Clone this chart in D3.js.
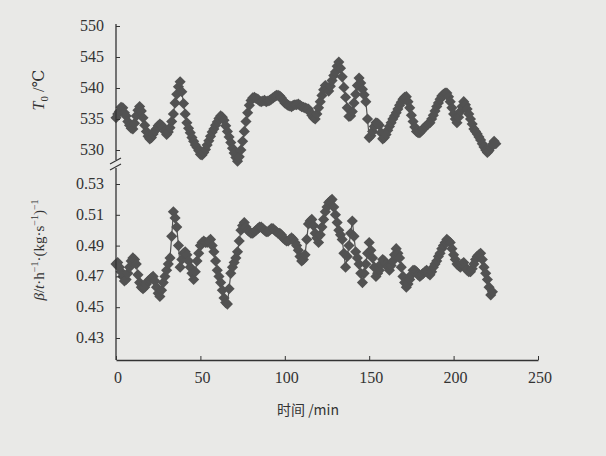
<!DOCTYPE html>
<html>
<head>
<meta charset="utf-8">
<script src="https://cdn.jsdelivr.net/npm/d3@7"></script>
<style>
  body { margin: 0; background: #e9e9e7; }
  svg { display: block; }
  text { fill: #333; font-family: "Liberation Serif", "DejaVu Serif", serif; }
</style>
</head>
<body>
<svg id="chart" width="606" height="456"></svg>
<script>
// outlet temperature T0, degC, one reading per minute from t = 0
const temps = [
  535.2, 535.8, 536.2, 536.9, 536.8, 536.0, 535.5, 534.6, 534.0, 533.5,
  533.4, 534.3, 535.5, 536.4, 537.0, 536.3, 535.2, 534.0, 533.0, 532.2,
  531.8, 532.0, 532.6, 533.1, 533.4, 533.9, 534.2, 534.0, 533.6, 533.0,
  532.5, 532.9, 533.6, 534.6, 535.8, 537.6, 539.0, 540.2, 541.0, 539.4,
  537.5, 535.8, 534.4, 533.5, 532.8, 532.0, 531.4, 530.8, 530.4, 529.9,
  529.3, 529.2, 529.6, 530.1, 530.8, 531.5, 532.2, 532.9, 533.4, 534.0,
  534.5, 535.1, 535.5, 535.3, 534.8, 533.9, 533.0, 532.1, 531.2, 530.3,
  529.5, 528.8, 528.2, 528.9, 530.0, 531.4, 533.0, 534.6, 536.0, 537.2,
  538.0, 538.4, 538.5, 538.3, 538.2, 537.9, 537.8, 537.9, 538.0, 537.8,
  537.9, 538.0, 538.2, 538.4, 538.6, 538.8, 538.8, 538.7, 538.4, 538.0,
  537.6, 537.4, 537.2, 537.1, 537.0, 537.2, 537.3, 537.3, 537.4, 537.2,
  537.0, 536.9, 536.8, 536.7, 536.6, 536.1, 535.6, 535.2, 535.0, 535.8,
  536.8, 537.8, 538.8, 539.7, 540.4, 539.8, 539.5, 540.3, 541.2, 542.0,
  542.6, 543.5, 544.2, 543.2, 541.8, 540.1, 538.5, 536.8, 535.4, 535.5,
  536.2, 537.6, 539.0, 540.4, 541.6, 540.8, 539.8, 538.9, 537.8, 535.0,
  532.0, 532.3, 533.0, 533.8, 534.4, 534.3, 534.0, 532.8, 531.8, 532.0,
  532.5, 533.2, 533.8, 534.4, 535.0, 535.5, 536.0, 536.6, 537.2, 537.7,
  538.2, 538.5, 538.6, 537.8, 536.8, 535.6, 534.6, 533.7, 533.0, 532.8,
  532.8, 533.1, 533.4, 533.7, 534.0, 534.2, 534.4, 535.0, 535.6, 536.3,
  537.0, 537.6, 538.2, 538.7, 539.0, 539.2, 539.2, 538.6, 537.8, 536.8,
  535.8, 535.0, 534.4, 535.3, 536.2, 537.0, 537.8, 537.3, 536.6, 535.8,
  535.0, 534.2, 533.4, 533.0, 532.6, 532.1, 531.6, 531.0, 530.5, 530.0,
  529.6, 529.9, 530.4, 530.9, 531.4, 531.0
];

// beta, t/h per kg/s, one reading per minute from t = 0
const betas = [
  0.478, 0.479, 0.476, 0.473, 0.470, 0.467, 0.468, 0.472, 0.476, 0.480,
  0.482, 0.481, 0.478, 0.471, 0.466, 0.463, 0.462, 0.463, 0.465, 0.467,
  0.468, 0.469, 0.470, 0.467, 0.463, 0.459, 0.457, 0.461, 0.466, 0.470,
  0.474, 0.478, 0.482, 0.496, 0.512, 0.508, 0.502, 0.490, 0.476, 0.481,
  0.485, 0.486, 0.484, 0.480, 0.476, 0.472, 0.468, 0.473, 0.480, 0.485,
  0.490, 0.492, 0.493, 0.492, 0.492, 0.493, 0.494, 0.490, 0.486, 0.480,
  0.474, 0.470, 0.466, 0.461, 0.456, 0.453, 0.452, 0.462, 0.472, 0.476,
  0.479, 0.482, 0.486, 0.493, 0.500, 0.503, 0.505, 0.502, 0.500, 0.499,
  0.498, 0.498, 0.499, 0.500, 0.501, 0.502, 0.502, 0.501, 0.500, 0.499,
  0.499, 0.500, 0.501, 0.501, 0.500, 0.499, 0.498, 0.498, 0.497, 0.495,
  0.494, 0.493, 0.493, 0.494, 0.495, 0.494, 0.492, 0.490, 0.487, 0.483,
  0.480, 0.481, 0.484, 0.494, 0.504, 0.506, 0.507, 0.503, 0.498, 0.495,
  0.492, 0.497, 0.502, 0.507, 0.512, 0.515, 0.518, 0.519, 0.520, 0.515,
  0.510, 0.505, 0.500, 0.497, 0.494, 0.485, 0.476, 0.483, 0.490, 0.498,
  0.506, 0.496, 0.486, 0.482, 0.478, 0.472, 0.466, 0.472, 0.478, 0.485,
  0.492, 0.487, 0.482, 0.476, 0.470, 0.472, 0.474, 0.478, 0.481, 0.480,
  0.478, 0.476, 0.474, 0.477, 0.480, 0.484, 0.488, 0.485, 0.482, 0.476,
  0.470, 0.466, 0.463, 0.465, 0.468, 0.471, 0.474, 0.474, 0.473, 0.471,
  0.470, 0.471, 0.472, 0.473, 0.474, 0.472, 0.471, 0.473, 0.476, 0.478,
  0.480, 0.483, 0.485, 0.488, 0.490, 0.492, 0.494, 0.493, 0.492, 0.488,
  0.484, 0.481, 0.478, 0.477, 0.476, 0.478, 0.479, 0.476, 0.474, 0.473,
  0.473, 0.475, 0.478, 0.481, 0.483, 0.484, 0.485, 0.481, 0.476, 0.472,
  0.468, 0.463, 0.458, 0.460
];

const xTicks = [0, 50, 100, 150, 200, 250];
const tTicks = [530, 535, 540, 545, 550];
const bTicks = [0.43, 0.45, 0.47, 0.49, 0.51, 0.53];

const svg = d3.select("#chart");
const axisCol = "#333";
const markCol = "#525252";

const x = d3.scaleLinear().domain([0, 250]).range([116, 538]);
const yT = d3.scaleLinear().domain([530, 550]).range([150, 26]);
const yB = d3.scaleLinear().domain([0.43, 0.53]).range([338, 184]);

// square turned 45 degrees
const diamond = d3.symbol().type(d3.symbolSquare).size(62);

function drawSeries(vals, y) {
  const pts = vals.map((v, i) => [i, v]);
  svg.append("path")
    .datum(pts)
    .attr("fill", "none")
    .attr("stroke", markCol)
    .attr("stroke-width", 1.2)
    .attr("d", d3.line().x(d => x(d[0])).y(d => y(d[1])));
  svg.append("g").selectAll("path")
    .data(pts)
    .join("path")
    .attr("transform", d => "translate(" + x(d[0]) + "," + y(d[1]) + ") rotate(45)")
    .attr("d", diamond)
    .attr("fill", markCol);
}

drawSeries(temps, yT);
drawSeries(betas, yB);

// left axes, ticks point inward
function leftAxis(y, ticks, fmt, top, bottom) {
  const g = svg.append("g").attr("transform", "translate(116,0)");
  g.call(d3.axisRight(y).tickValues(ticks).tickFormat("").tickSize(4).tickSizeOuter(0));
  g.select(".domain").remove();
  g.selectAll("line").attr("stroke", axisCol);
  g.append("line")
    .attr("y1", top).attr("y2", bottom)
    .attr("stroke", axisCol).attr("stroke-width", 1.3);
  svg.append("g").selectAll("text")
    .data(ticks)
    .join("text")
    .attr("x", 104)
    .attr("y", d => y(d) + 5)
    .attr("text-anchor", "end")
    .attr("font-size", 16)
    .text(fmt);
}

leftAxis(yT, tTicks, d3.format("d"), 24, 160);
leftAxis(yB, bTicks, d3.format(".2f"), 168, 360);

// axis break marks
svg.append("g")
  .selectAll("line")
  .data([0, 6])
  .join("line")
  .attr("x1", 110).attr("x2", 121)
  .attr("y1", d => 164 + d).attr("y2", d => 158 + d)
  .attr("stroke", axisCol).attr("stroke-width", 1.1);

// bottom axis
const gx = svg.append("g").attr("transform", "translate(0,360)");
gx.call(d3.axisTop(x).tickValues(xTicks).tickFormat("").tickSize(4).tickSizeOuter(0));
gx.select(".domain").attr("stroke", axisCol).attr("stroke-width", 1.3);
gx.selectAll("line").attr("stroke", axisCol);
svg.append("g").selectAll("text")
  .data(xTicks)
  .join("text")
  .attr("x", d => x(d) + 2)
  .attr("y", 383)
  .attr("text-anchor", "middle")
  .attr("font-size", 16)
  .text(d => d);

// axis titles
svg.append("text")
  .attr("x", 308).attr("y", 415)
  .attr("text-anchor", "middle")
  .attr("font-size", 14)
  .style("font-family", "'Noto Sans CJK SC', sans-serif")
  .text("时间 /min");

const t0 = svg.append("text")
  .attr("transform", "translate(44,90) rotate(-90)")
  .attr("text-anchor", "middle")
  .attr("font-size", 16);
t0.append("tspan").attr("font-style", "italic").text("T");
t0.append("tspan").attr("font-size", 11).attr("dy", 4).text("0");
t0.append("tspan").attr("dy", -4).text(" /℃");

const bl = svg.append("text")
  .attr("transform", "translate(44,250) rotate(-90)")
  .attr("text-anchor", "middle")
  .attr("font-size", 15);
bl.append("tspan").attr("font-style", "italic").text("β");
bl.append("tspan").text("/");
bl.append("tspan").attr("font-style", "italic").text("t");
bl.append("tspan").text("·h");
bl.append("tspan").attr("font-size", 10).attr("dy", -6).text("−1");
bl.append("tspan").attr("dy", 6).text("·(kg·s");
bl.append("tspan").attr("font-size", 10).attr("dy", -6).text("−1");
bl.append("tspan").attr("dy", 6).text(")");
bl.append("tspan").attr("font-size", 10).attr("dy", -6).text("−1");
</script>
</body>
</html>
